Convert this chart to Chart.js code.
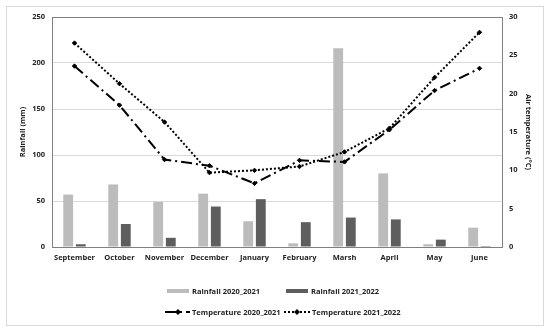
<!DOCTYPE html>
<html>
<head>
<meta charset="utf-8">
<script src="https://cdn.jsdelivr.net/npm/chart.js@4.4.1/dist/chart.umd.min.js"></script>
<style>
  body { margin: 0; background: #fff; font-family: "Open Sans", "Liberation Sans", sans-serif; }
  #wrap { position: relative; width: 550px; height: 333px; }
  #frame { position: absolute; left: 6px; top: 6px; width: 536px; height: 318px; border: 1px solid #d9d9d9; }
  canvas#chart { position: absolute; left: 0; top: 0; }
  .leg { position: absolute; font-weight: bold; font-size: 7.5px; color: #222; white-space: nowrap; display: flex; align-items: center; }
  .leg canvas { margin-right: 2px; }
</style>
</head>
<body>
<div id="wrap">
  <div id="frame"></div>
  <canvas id="chart" width="550" height="333"></canvas>
  <div class="leg" style="left:166px;top:285px"><canvas id="s1" width="24" height="12"></canvas>Rainfall 2020_2021</div>
  <div class="leg" style="left:285px;top:285px"><canvas id="s2" width="24" height="12"></canvas>Rainfall 2021_2022</div>
  <div class="leg" style="left:165px;top:306px"><canvas id="s3" width="25" height="12"></canvas>Temperature 2020_2021</div>
  <div class="leg" style="left:284px;top:306px"><canvas id="s4" width="26" height="12"></canvas>Temperature 2021_2022</div>
</div>
<script>
const months = ["September", "October", "November", "December", "January", "February", "Marsh", "April", "May", "June"];
const rain2021 = [57, 68, 49, 58, 28, 4, 216, 80, 3, 21];
const rain2122 = [3, 25, 10, 44, 52, 27, 32, 30, 8, 1];
const temp2021 = [23.6, 18.5, 11.4, 10.6, 8.3, 11.3, 11.1, 15.3, 20.4, 23.3];
const temp2122 = [26.6, 21.3, 16.3, 9.7, 10.0, 10.5, 12.4, 15.5, 22.1, 28.0];

const lightGrey = "#bcbcbc";
const darkGrey = "#5e5e5e";
const dashDot = [11, 4, 2, 4];
const dotted = [2, 2];
const tickFont = { family: "Open Sans", size: 7.5, weight: "bold" };

const frameBox = {
  id: "frameBox",
  afterDraw(chart) {
    const a = chart.chartArea;
    const ctx = chart.ctx;
    ctx.save();
    ctx.strokeStyle = "#808080";
    ctx.lineWidth = 1;
    ctx.strokeRect(a.left + 0.5, a.top + 0.5, a.right - a.left, a.bottom - a.top);
    ctx.restore();
  }
};

new Chart(document.getElementById("chart"), {
  type: "bar",
  data: {
    labels: months,
    datasets: [
      { type: "line", label: "Temperature 2020_2021", data: temp2021, yAxisID: "y1", borderColor: "#000", backgroundColor: "#000",
        borderWidth: 2, borderDash: dashDot, pointRadius: 2.2, pointStyle: "rectRot", pointBorderWidth: 1, order: 1 },
      { type: "line", label: "Temperature 2021_2022", data: temp2122, yAxisID: "y1", borderColor: "#000", backgroundColor: "#000",
        borderWidth: 2, borderDash: dotted, pointRadius: 2.2, pointStyle: "rectRot", pointBorderWidth: 1, order: 1 },
      { label: "Rainfall 2020_2021", data: rain2021, yAxisID: "y", backgroundColor: lightGrey, categoryPercentage: 0.56, barPercentage: 0.78, order: 2 },
      { label: "Rainfall 2021_2022", data: rain2122, yAxisID: "y", backgroundColor: darkGrey, categoryPercentage: 0.56, barPercentage: 0.78, order: 2 }
    ]
  },
  options: {
    responsive: false,
    animation: false,
    layout: { padding: { left: 6, right: 7, top: 17, bottom: 66 } },
    plugins: { legend: { display: false }, tooltip: { enabled: false } },
    scales: {
      x: {
        grid: { display: false, drawTicks: false },
        border: { color: "#808080" },
        ticks: { color: "#222", font: tickFont, padding: 6, maxRotation: 0, autoSkip: false },
        afterFit(s) { s.height = 20; }
      },
      y: {
        position: "left", min: 0, max: 250,
        ticks: { stepSize: 50, color: "#222", font: tickFont, padding: 7 },
        grid: { color: "#d9d9d9", drawTicks: false },
        border: { color: "#808080" },
        title: { display: true, text: "Rainfall (mm)", color: "#222", font: tickFont, padding: { top: 12, bottom: 0 } },
        afterFit(s) { s.width = 46; }
      },
      y1: {
        position: "right", min: 0, max: 30,
        ticks: { stepSize: 5, color: "#222", font: tickFont, padding: 7 },
        grid: { drawOnChartArea: false, drawTicks: false },
        border: { color: "#808080" },
        title: { display: true, text: "Air temperature (°C)", color: "#222", font: tickFont, padding: { top: 10, bottom: 0 } },
        afterFit(s) { s.width = 41; }
      }
    }
  },
  plugins: [frameBox]
});

// legend swatches
function barSwatch(id, color) {
  const c = document.getElementById(id).getContext("2d");
  c.fillStyle = color;
  c.fillRect(1, 4, 22, 4);
}
function lineSwatch(id, dash) {
  const c = document.getElementById(id).getContext("2d");
  c.strokeStyle = "#000";
  c.lineWidth = 2;
  c.setLineDash(dash);
  c.beginPath();
  c.moveTo(0, 6);
  c.lineTo(26, 6);
  c.stroke();
  c.setLineDash([]);
  c.fillStyle = "#000";
  c.beginPath();
  c.moveTo(13, 3); c.lineTo(16, 6); c.lineTo(13, 9); c.lineTo(10, 6);
  c.closePath();
  c.fill();
}
barSwatch("s1", lightGrey);
barSwatch("s2", darkGrey);
lineSwatch("s3", dashDot);
lineSwatch("s4", dotted);
</script>
</body>
</html>
